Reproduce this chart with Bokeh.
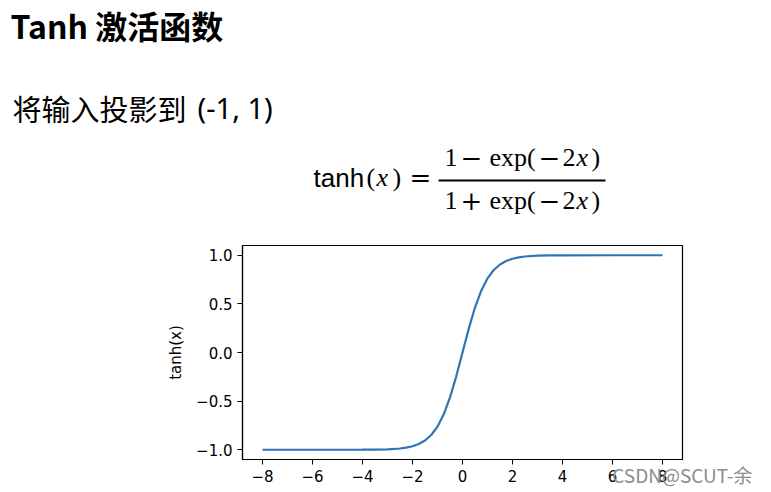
from bokeh.plotting import figure
from bokeh.layouts import column
from bokeh.models import Label, Arrow, FixedTicker, Range1d, LinearAxis
from bokeh.embed import file_html
from bokeh.resources import INLINE

# ---- data ----
x_vals = [-8, -6, -4, -3.5, -3, -2.5, -2.25, -2, -1.75, -1.5, -1.25, -1, -0.75, -0.5, -0.25,
          0, 0.25, 0.5, 0.75, 1, 1.25, 1.5, 1.75, 2, 2.25, 2.5, 3, 3.5, 4, 6, 8]
y_vals = [-1.0, -1.0, -0.999, -0.998, -0.995, -0.987, -0.978, -0.964, -0.941, -0.905, -0.848,
          -0.762, -0.635, -0.462, -0.245, 0.0, 0.245, 0.462, 0.635, 0.762, 0.848, 0.905, 0.941,
          0.964, 0.978, 0.987, 0.995, 0.998, 0.999, 1.0, 1.0]
x_ticks = [-8, -6, -4, -2, 0, 2, 4, 6, 8]
x_tick_labels = ["−8", "−6", "−4", "−2", "0", "2", "4", "6", "8"]
y_ticks = [-1.0, -0.5, 0.0, 0.5, 1.0]
y_tick_labels = ["−1.0", "−0.5", "0.0", "0.5", "1.0"]

title_text = "Tanh 激活函数"
subtitle_cjk = "将输入投影到"
subtitle_range = "(-1, 1)"
y_label = "tanh(x)"
watermark = "CSDN@SCUT-余"
watermark_at = 8.79  # right end of the x axis, where the watermark is centred

CJK = "Noto Sans CJK SC"
SERIF = "Liberation Serif"
OPS = "DejaVu Serif"

W = 771
HEAD_H = 245
CHART_H = 247

# ---------------- header (title, subtitle, formula) ----------------
head = figure(width=W, height=HEAD_H, output_backend="svg", toolbar_location=None,
              x_range=Range1d(0, W), y_range=Range1d(HEAD_H, 0),
              x_axis_type=None, y_axis_type=None, min_border=0)
head.frame_align = False
head.xgrid.visible = False
head.ygrid.visible = False
head.outline_line_color = None
head.background_fill_color = "white"
head.border_fill_color = "white"


def txt(t, px, py, font, size, style="normal", color="black"):
    head.add_layout(Label(x=px, y=py, text=t, text_font=font, text_font_size=size,
                          text_font_style=style, text_color=color,
                          text_baseline="alphabetic", text_align="left"))


txt(title_text, 10, 24, CJK, "32px", "bold")
txt(subtitle_cjk, 12, 107, CJK, "29px")
txt(subtitle_range, 197, 107, "Noto Sans", "29px")

# formula: tanh(x) = (1 − exp(−2x)) / (1 + exp(−2x))
FY = 177
txt("tanh", 313, FY, "Liberation Sans", "26px")
txt("(", 366, FY, SERIF, "26px")
txt("x", 376, FY, SERIF, "26px", "italic")
txt(")", 392, FY, SERIF, "26px")
txt("=", 409, FY, OPS, "26px")


def frac_row(op, base):
    txt("1", 444, base, SERIF, "26px")
    txt(op, 460, base, OPS, "26px")
    txt("exp(", 489, base, SERIF, "26px")
    txt("−", 538, base, OPS, "26px")
    txt("2", 562, base, SERIF, "26px")
    txt("x", 576, base, SERIF, "26px", "italic")
    txt(")", 591, base, SERIF, "26px")


frac_row("−", 157)
frac_row("+", 200)
head.add_layout(Arrow(x_start=438, y_start=180, x_end=605, y_end=180, end=None,
                      line_color="black", line_width=2))

# ---------------- chart ----------------
p = figure(width=W, height=CHART_H, output_backend="svg", toolbar_location=None,
           x_range=Range1d(-8.8, 8.8), y_range=Range1d(-1.1, 1.1),
           min_border_left=242, min_border_top=0, min_border_right=89, min_border_bottom=33)
p.frame_align = False

p.line(x_vals, y_vals, line_color="#2f74b3", line_width=2.2)

p.xgrid.visible = False
p.ygrid.visible = False
p.outline_line_color = "black"
p.outline_line_width = 1.2
p.background_fill_color = "white"
p.border_fill_color = "white"

for ax in (p.xaxis[0], p.yaxis[0]):
    ax.axis_line_color = "black"
    ax.axis_line_width = 1.2
    ax.major_tick_line_color = "black"
    ax.major_tick_in = 0
    ax.major_tick_out = 5
    ax.minor_tick_line_color = None
    ax.major_label_text_font = "DejaVu Sans"
    ax.major_label_text_font_size = "15px"
    ax.major_label_text_color = "black"

p.xaxis[0].ticker = FixedTicker(ticks=x_ticks)
p.xaxis[0].major_label_overrides = dict(zip(x_ticks, x_tick_labels))
p.xaxis[0].major_label_standoff = 5
p.yaxis[0].ticker = FixedTicker(ticks=y_ticks)
p.yaxis[0].major_label_overrides = dict(zip(y_ticks, y_tick_labels))
p.yaxis[0].major_label_standoff = 5
p.yaxis[0].axis_label = y_label
p.yaxis[0].axis_label_text_font = "DejaVu Sans"
p.yaxis[0].axis_label_text_font_size = "15px"
p.yaxis[0].axis_label_text_font_style = "normal"
p.yaxis[0].axis_label_text_color = "black"
p.yaxis[0].axis_label_standoff = 8

# watermark drawn as the single tick label of an extra, invisible axis at the right end
wm = LinearAxis(ticker=FixedTicker(ticks=[watermark_at]),
                major_label_overrides={watermark_at: watermark},
                axis_line_color=None, major_tick_line_color=None, minor_tick_line_color=None,
                major_tick_in=0, major_tick_out=0, major_label_standoff=-24,
                major_label_text_font=CJK, major_label_text_font_size="19px",
                major_label_text_color="#8c8c8c")
p.add_layout(wm, "below")

layout = column(head, p, spacing=0)
open("out.html", "w").write(file_html(layout, INLINE))
